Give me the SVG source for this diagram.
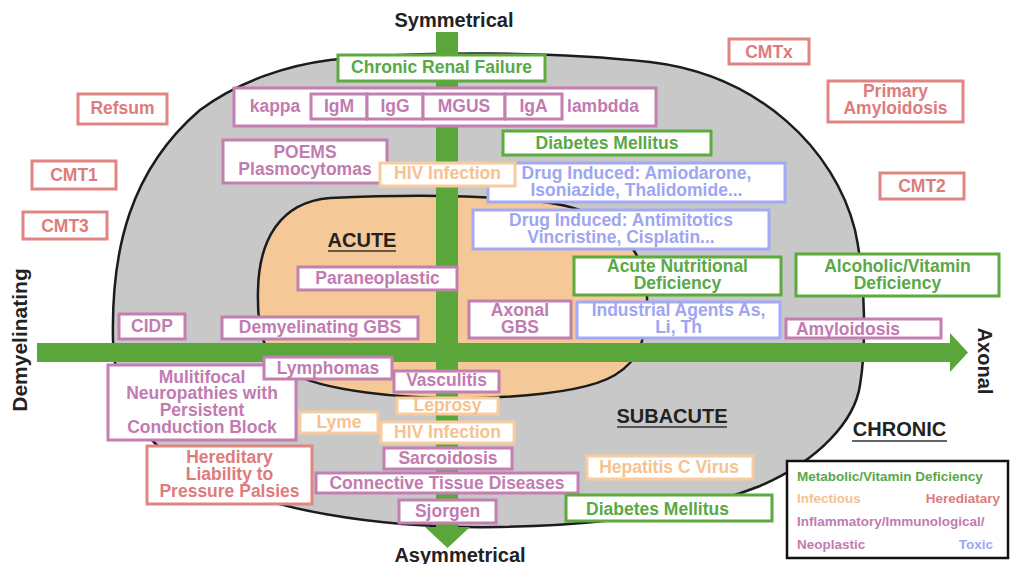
<svg xmlns="http://www.w3.org/2000/svg" width="1010" height="564" viewBox="0 0 1010 564">
<style>
text{font-family:"Liberation Sans",Arial,sans-serif;font-weight:bold;}
.t{font-size:17.5px;text-anchor:middle;}
.h{font-size:20px;text-anchor:middle;fill:#222;}
.lg{font-size:13.5px;}
.bx{fill:#fff;stroke-width:3;}
.sg{stroke:#5daa3f;} .sp{stroke:#c47fb2;} .sr{stroke:#e08484;} .so{stroke:#f8cc9e;} .sb{stroke:#a3a9f4;}
.fg{fill:#5aa846;} .fp{fill:#c27bb0;} .fr{fill:#de7b7b;} .fo{fill:#f6c28e;} .fb{fill:#9ea5f2;}
.ul{stroke:#333;stroke-width:1.5;}
</style>
<rect width="1010" height="564" fill="#fff"/>
<g id="regions">
<path id="chronic-region" d="M 330 60 C 420 50, 560 52, 650 62 C 760 75, 835 150, 855 230 C 866 280, 866 350, 860 385 C 855 420, 820 460, 760 486 C 700 510, 620 525, 500 527 C 380 529, 260 510, 190 470 C 140 440, 115 400, 113 340 C 111 250, 130 170, 200 110 C 240 80, 290 65, 330 60 Z" fill="#c8c8c8" stroke="#1c1c1c" stroke-width="2.5"/>
<path id="acute-region" d="M 330 198 C 420 194, 520 195, 570 207 C 625 222, 648 260, 647 300 C 646 340, 640 360, 615 375 C 590 390, 540 396, 480 398 C 400 400, 320 390, 290 372 C 262 355, 257 330, 258 290 C 259 240, 280 202, 330 198 Z" fill="#f5c898" stroke="#1c1c1c" stroke-width="2.5"/>
</g>
<g id="connectors" fill="#5aa63b">
<rect x="436" y="32" width="22" height="496"/>
<polygon points="425,527 470,527 447.5,548"/>
<rect x="37" y="343" width="914" height="19"/>
<polygon points="950,333 968,352.5 950,372"/>
</g>
<g id="axis-labels">
<text class="h" x="454" y="27">Symmetrical</text>
<text class="h" x="460" y="562">Asymmetrical</text>
<text class="h" style="font-size:21px" transform="translate(27,340) rotate(-90)">Demyelinating</text>
<text class="h" transform="translate(978,361) rotate(90)">Axonal</text>
</g>
<g id="zone-labels">
<text class="h" x="362" y="247">ACUTE</text>
<line class="ul" x1="328" y1="251" x2="396" y2="251"/>
<text class="h" x="672" y="423">SUBACUTE</text>
<line class="ul" x1="617" y1="427" x2="727" y2="427"/>
<text class="h" x="899.5" y="436">CHRONIC</text>
<line class="ul" x1="852" y1="441" x2="947" y2="441"/>
</g>
<g id="n-crf"><rect class="bx sg" x="338" y="55" width="207" height="26"/><text class="t fg" x="441.5" y="73">Chronic Renal Failure</text></g>
<g id="n-paraprotein">
<rect class="bx sp" x="234" y="88" width="422" height="38"/>
<rect class="bx sp" x="311" y="94" width="56" height="25"/>
<rect class="bx sp" x="367" y="94" width="56" height="25"/>
<rect class="bx sp" x="423" y="94" width="82" height="25"/>
<rect class="bx sp" x="505" y="94" width="57" height="25"/>
<text class="t fp" x="275" y="112">kappa</text>
<text class="t fp" x="339" y="112">IgM</text>
<text class="t fp" x="395" y="112">IgG</text>
<text class="t fp" x="464" y="112">MGUS</text>
<text class="t fp" x="533.5" y="112">IgA</text>
<text class="t fp" x="603" y="112">lambdda</text>
</g>
<g id="n-refsum"><rect class="bx sr" x="78" y="94" width="89" height="30"/><text class="t fr" x="122.5" y="114">Refsum</text></g>
<g id="n-cmt1"><rect class="bx sr" x="32" y="161" width="84" height="28"/><text class="t fr" x="74" y="181">CMT1</text></g>
<g id="n-cmt3"><rect class="bx sr" x="23" y="212" width="84" height="27"/><text class="t fr" x="65" y="232">CMT3</text></g>
<g id="n-cmtx"><rect class="bx sr" x="729" y="39" width="80" height="25"/><text class="t fr" x="769" y="58">CMTx</text></g>
<g id="n-primary-amyloidosis"><rect class="bx sr" x="828" y="81" width="135" height="41"/><text class="t fr" x="895.5" y="97">Primary</text><text class="t fr" x="895.5" y="114">Amyloidosis</text></g>
<g id="n-cmt2"><rect class="bx sr" x="880" y="173" width="84" height="26"/><text class="t fr" x="922" y="192">CMT2</text></g>
<g id="n-poems"><rect class="bx sp" x="223" y="140" width="164" height="43"/><text class="t fp" x="305" y="158">POEMS</text><text class="t fp" x="305" y="175">Plasmocytomas</text></g>
<g id="n-dm-top"><rect class="bx sg" x="503" y="131" width="208" height="24"/><text class="t fg" x="607" y="149">Diabetes Mellitus</text></g>
<g id="n-drug1"><rect class="bx sb" x="488" y="163" width="297" height="39"/><text class="t fb" x="636.5" y="179">Drug Induced: Amiodarone,</text><text class="t fb" x="636.5" y="196">Isoniazide, Thalidomide...</text></g>
<g id="n-hiv-top"><rect class="bx so" x="380" y="163" width="135" height="23"/><text class="t fo" x="447.5" y="179">HIV Infection</text></g>
<g id="n-drug2"><rect class="bx sb" x="473" y="210" width="296" height="39"/><text class="t fb" x="621" y="226">Drug Induced: Antimitotics</text><text class="t fb" x="621" y="243">Vincristine, Cisplatin...</text></g>
<g id="n-paraneoplastic"><rect class="bx sp" x="298" y="267" width="159" height="23"/><text class="t fp" x="377.5" y="284">Paraneoplastic</text></g>
<g id="n-acute-nutritional"><rect class="bx sg" x="574" y="257" width="207" height="38"/><text class="t fg" x="677.5" y="272">Acute Nutritional</text><text class="t fg" x="677.5" y="289">Deficiency</text></g>
<g id="n-alcoholic"><rect class="bx sg" x="796" y="254" width="203" height="42"/><text class="t fg" x="897.5" y="272">Alcoholic/Vitamin</text><text class="t fg" x="897.5" y="289">Deficiency</text></g>
<g id="n-axonal-gbs"><rect class="bx sp" x="469" y="301" width="102" height="37"/><text class="t fp" x="520" y="316">Axonal</text><text class="t fp" x="520" y="333">GBS</text></g>
<g id="n-industrial"><rect class="bx sb" x="577" y="302" width="203" height="36"/><text class="t fb" x="678.5" y="316">Industrial Agents As,</text><text class="t fb" x="678.5" y="333">Li, Th</text></g>
<g id="n-amyloidosis"><rect class="bx sp" x="786" y="319" width="155" height="19"/><text class="t fp" x="848" y="335">Amyloidosis</text></g>
<g id="n-cidp"><rect class="bx sp" x="119" y="314" width="66" height="25"/><text class="t fp" x="152" y="332">CIDP</text></g>
<g id="n-demyel-gbs"><rect class="bx sp" x="222" y="317" width="196" height="22"/><text class="t fp" x="320" y="333">Demyelinating GBS</text></g>
<g id="n-multifocal"><rect class="bx sp" x="108" y="365" width="188" height="75"/><text class="t fp" x="202" y="383">Mulitifocal</text><text class="t fp" x="202" y="399">Neuropathies with</text><text class="t fp" x="202" y="416">Persistent</text><text class="t fp" x="202" y="433">Conduction Block</text></g>
<g id="n-lymphomas"><rect class="bx sp" x="264" y="357" width="128" height="22"/><text class="t fp" x="328" y="374">Lymphomas</text></g>
<g id="n-hnpp"><rect class="bx sr" x="147" y="446" width="165" height="58"/><text class="t fr" x="229.5" y="463">Hereditary</text><text class="t fr" x="229.5" y="480">Liability to</text><text class="t fr" x="229.5" y="497">Pressure Palsies</text></g>
<g id="n-vasculitis"><rect class="bx sp" x="394" y="371" width="105" height="21"/><text class="t fp" x="446.5" y="386">Vasculitis</text></g>
<g id="n-leprosy"><rect class="bx so" x="397" y="398" width="101" height="16"/><text class="t fo" x="447.5" y="411">Leprosy</text></g>
<g id="n-lyme"><rect class="bx so" x="300" y="412" width="78" height="21"/><text class="t fo" x="339" y="428">Lyme</text></g>
<g id="n-hiv-bottom"><rect class="bx so" x="381" y="422" width="133" height="21"/><text class="t fo" x="447.5" y="438">HIV Infection</text></g>
<g id="n-sarcoidosis"><rect class="bx sp" x="384" y="448" width="128" height="21"/><text class="t fp" x="448" y="464">Sarcoidosis</text></g>
<g id="n-connective"><rect class="bx sp" x="316" y="473" width="262" height="20"/><text class="t fp" x="447" y="489">Connective Tissue Diseases</text></g>
<g id="n-sjorgen"><rect class="bx sp" x="399" y="500" width="97" height="23"/><text class="t fp" x="447.5" y="517">Sjorgen</text></g>
<g id="n-hepatitis"><rect class="bx so" x="587" y="456" width="166" height="23"/><text class="t fo" x="669" y="473">Hepatitis C Virus</text></g>
<g id="n-dm-bottom"><rect class="bx sg" x="566" y="495" width="206" height="26"/><text class="t fg" x="657.5" y="515">Diabetes Mellitus</text></g>
<g id="legend">
<rect x="787" y="461" width="221" height="97" fill="#fff" stroke="#111" stroke-width="2.5"/>
<text class="lg fg" x="797" y="481">Metabolic/Vitamin Deficiency</text>
<text class="lg fo" x="797" y="503">Infectious</text>
<text class="lg fr" x="1000" y="503" text-anchor="end">Herediatary</text>
<text class="lg fp" x="797" y="526">Inflammatory/Immunological/</text>
<text class="lg fp" x="797" y="549">Neoplastic</text>
<text class="lg fb" x="993" y="549" text-anchor="end">Toxic</text>
</g>
</svg>
